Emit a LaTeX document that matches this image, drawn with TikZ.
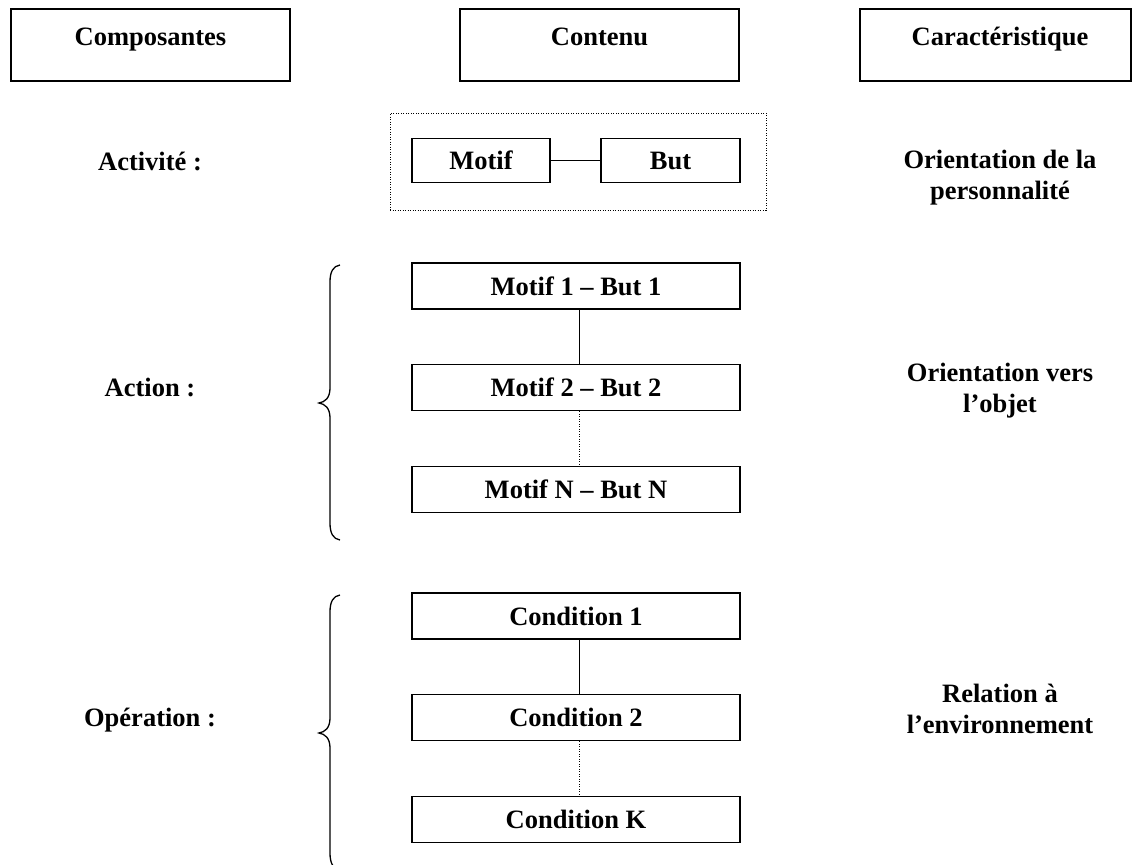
\documentclass[tikz,border=0pt]{standalone}
\usepackage{fontspec}
\setmainfont{Liberation Serif}
\usetikzlibrary{calc}
\begin{document}
\begin{tikzpicture}[x=1pt,y=-1pt,
  txt/.style={font=\bfseries\fontsize{26.5}{31}\selectfont, inner sep=0pt, align=center},
  hdr/.style={draw, line width=1.5pt, minimum width=279pt, minimum height=72pt, inner sep=0pt},
  cbox/.style={draw, line width=1.5pt, minimum width=328pt, minimum height=46pt, inner sep=0pt, font=\bfseries\fontsize{26.5}{31}\selectfont},
  sbox/.style={draw, line width=1.5pt, minimum height=44pt, inner sep=0pt, font=\bfseries\fontsize{26.5}{31}\selectfont},
  link/.style={line width=1pt},
  dlink/.style={line width=1pt, dash pattern=on 1pt off 1.5pt},
  brace/.style={line width=1.3pt}
]
\useasboundingbox (0,0) rectangle (1133,865);
\clip (0,0) rectangle (1133,865);
\fill[white] (0,0) rectangle (1133,865);

% headers
\node[hdr] (hc) at (150.5,45) {};
\node[hdr] (hm) at (599.5,45) {};
\node[hdr, minimum width=271pt] (hr) at (995.5,45) {};
\node[txt, anchor=base] (hct) at (150.5,45) {Composantes};
\node[txt, anchor=base] (hmt) at (599.5,45) {Contenu};
\node[txt, anchor=base] (hrt) at (1000,45) {Caractéristique};

% Activite row
\node[draw, line width=1pt, dash pattern=on 1pt off 1.5pt, minimum width=376pt, minimum height=97pt, inner sep=0pt] (act) at (578,161.5) {};
\node[sbox, minimum width=138pt] (motif) at (481,160.5) {Motif};
\node[sbox, minimum width=139pt] (but) at (670.5,160.5) {But};
\draw[link] (motif) -- (but);
\node[txt, anchor=base] (la) at (150,170) {Activité :};
\node[txt, anchor=north] (ra) at (1000,150) {Orientation de la\\personnalité};

% Action row
\node[cbox] (m1) at (576,286) {Motif 1 – But 1};
\node[cbox] (m2) at (576,387.5) {Motif 2 – But 2};
\node[cbox] (m3) at (576,489.5) {Motif N – But N};
\draw[link] ([xshift=3pt]m1.south) -- ([xshift=3pt]m2.north);
\draw[dlink] ([xshift=3pt]m2.south) -- ([xshift=3pt]m3.north);
\node[txt, anchor=base] (lb) at (150,396) {Action :};
\node[txt, anchor=north] (rb) at (1000,363) {Orientation vers\\l’objet};

% Operation row
\node[cbox] (c1) at (576,616) {Condition 1};
\node[cbox] (c2) at (576,717.5) {Condition 2};
\node[cbox] (c3) at (576,819.5) {Condition K};
\draw[link] ([xshift=3pt]c1.south) -- ([xshift=3pt]c2.north);
\draw[dlink] ([xshift=3pt]c2.south) -- ([xshift=3pt]c3.north);
\node[txt, anchor=base] (lc) at (150,726) {Opération :};
\node[txt, anchor=north] (rc) at (1000,684) {Relation à\\l’environnement};

% braces
\draw[brace] (340,265) .. controls (333,266) and (330,272) .. (330,282) -- (330,388)
  .. controls (330,398) and (325,402) .. (319,403)
  .. controls (325,404) and (330,408) .. (330,418) -- (330,523)
  .. controls (330,533) and (333,539) .. (340,540);
\draw[brace] (340,595) .. controls (333,596) and (330,602) .. (330,612) -- (330,718)
  .. controls (330,728) and (325,732) .. (319,733)
  .. controls (325,734) and (330,738) .. (330,748) -- (330,853)
  .. controls (330,863) and (333,869) .. (340,870);
\end{tikzpicture}
\end{document}
